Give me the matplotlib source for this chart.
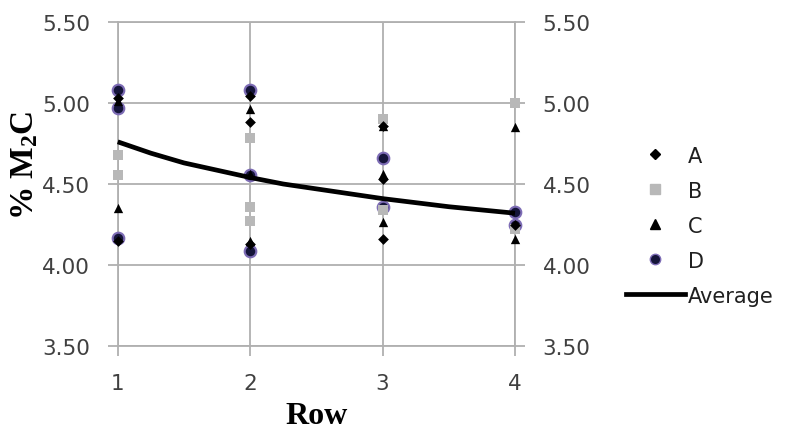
import matplotlib
matplotlib.use("Agg")
import matplotlib.pyplot as plt
from matplotlib.lines import Line2D

plt.rcParams['mathtext.default'] = 'regular'

# Data
rows_A = [1, 1, 2, 2, 2, 3, 3, 3, 4]
vals_A = [5.03, 4.15, 5.04, 4.885, 4.13, 4.86, 4.53, 4.16, 4.245]

rows_B = [1, 1, 2, 2, 2, 3, 3, 4, 4]
vals_B = [4.68, 4.555, 4.785, 4.36, 4.27, 4.90, 4.34, 5.00, 4.22]

rows_C = [1, 1, 2, 2, 2, 3, 3, 3, 4, 4]
vals_C = [4.35, 5.01, 4.96, 4.56, 4.15, 4.86, 4.56, 4.265, 4.85, 4.16]

rows_D = [1, 1, 1, 2, 2, 2, 3, 3, 4, 4]
vals_D = [5.08, 4.97, 4.165, 5.08, 4.555, 4.09, 4.66, 4.36, 4.325, 4.245]

avg_rows = [1.0, 1.25, 1.5, 1.75, 2.0, 2.25, 2.5, 2.75, 3.0, 3.25, 3.5, 3.75, 4.0]
avg_vals = [4.76, 4.69, 4.63, 4.585, 4.54, 4.50, 4.47, 4.44, 4.41, 4.385, 4.36, 4.34, 4.32]

yticks = [3.50, 4.00, 4.50, 5.00, 5.50]
xticks = [1, 2, 3, 4]

grid_c = '#b0b0b0'
tick_c = '#404040'

fig = plt.figure(figsize=(7.87, 4.35), dpi=100)
ax = fig.add_axes([0.1496, 0.2016, 0.6544 - 0.1496, 0.9478 - 0.2016])

ax.set_xlim(1, 4)
ax.set_ylim(3.5, 5.5)

ax.scatter(rows_D, vals_D, s=70, marker='o', facecolor='#15153a', edgecolor='#7d6cb5',
           linewidth=1.5, zorder=3, clip_on=False)
ax.scatter(rows_B, vals_B, s=45, marker='s', color='#b8b8b8', zorder=4, linewidth=0,
           clip_on=False)
ax.scatter(rows_C, vals_C, s=45, marker='^', color='black', zorder=5, linewidth=0,
           clip_on=False)
ax.scatter(rows_A, vals_A, s=30, marker='D', color='black', zorder=6, linewidth=0,
           clip_on=False)
ax.plot(avg_rows, avg_vals, color='black', linewidth=3.4, zorder=7,
        solid_capstyle='butt', clip_on=False)

ax.set_xticks(xticks)
ax.set_xticklabels([str(v) for v in xticks])
ax.set_yticks(yticks)
ax.set_yticklabels([f"{v:.2f}" for v in yticks])
ax.grid(True, color=grid_c, linewidth=1.3, zorder=0)
ax.set_axisbelow(True)
for sp in ax.spines.values():
    sp.set_color(grid_c)
    sp.set_linewidth(1.3)

ax.tick_params(axis='both', direction='out', length=7, width=1.3, color=grid_c,
               labelsize=15.5, labelcolor=tick_c)
ax.tick_params(axis='y', pad=13, left=True, right=True, labelleft=True, labelright=True)
ax.tick_params(axis='x', pad=12)
for lab in ax.get_yticklabels() + ax.get_xticklabels():
    lab.set_fontfamily('DejaVu Sans')

ax.set_xlabel('Row', fontfamily='Liberation Serif', fontweight='bold', fontsize=23,
              labelpad=6, color='black')
ax.set_ylabel('% M$_2$C', fontfamily='Liberation Serif', fontweight='bold', fontsize=24,
              color='black', ha='center', va='center')
ax.yaxis.set_label_coords(-0.233, 0.56)

handles = [
    Line2D([], [], linestyle='none', marker='D', color='black', markersize=5.5),
    Line2D([], [], linestyle='none', marker='s', color='#b8b8b8', markersize=7),
    Line2D([], [], linestyle='none', marker='^', color='black', markersize=7),
    Line2D([], [], linestyle='none', marker='o', markerfacecolor='#15153a',
           markeredgecolor='#7d6cb5', markersize=7.5),
    Line2D([], [], color='black', linewidth=3.4),
]
labels = ['A', 'B', 'C', 'D', 'Average']
leg = fig.legend(handles, labels, loc='upper left', bbox_to_anchor=(0.795, 0.663),
                 frameon=False, fontsize=15, handlelength=2.85, handletextpad=0.12,
                 labelspacing=0.72, borderpad=0, borderaxespad=0)
for t in leg.get_texts():
    t.set_color('#202020')

fig.savefig('out.png', dpi=100)
